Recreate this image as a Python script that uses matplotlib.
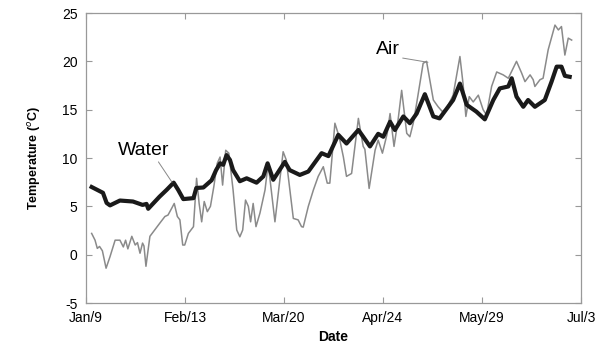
import matplotlib.pyplot as plt

# days after Jan/9, water temperature (thick line)
water_day = [2, 6, 7.3, 8.5, 12, 16.6, 20, 21.4, 22, 26, 28.5, 31, 32.6, 34.4, 38, 39, 41.5,
             44.4, 46, 47.4, 48.5, 49.7, 50.9, 52, 54.4, 56.8, 60.3, 62.7, 64.2, 66.2, 70.3,
             72, 75.6, 78.6, 83.3, 85.7, 89.2, 92.1, 96.3, 98, 100.4, 103.3, 105.1, 107.5,
             109.2, 112.2, 114.5, 116.9, 119.8, 122.8, 125, 129.8, 132.2, 134.6, 138, 141,
             144, 146.3, 149.3, 150.5, 152.2, 154.6, 156.3, 158.7, 162.2, 164.6, 166.4,
             168.1, 169.3, 171]
water_temp = [7.0, 6.4, 5.35, 5.1, 5.6, 5.5, 5.15, 5.25, 4.75, 6.0, 6.7, 7.45, 6.7, 5.75, 5.85,
              6.9, 6.95, 7.7, 8.75, 9.45, 9.3, 10.3, 9.8, 8.75, 7.6, 7.9, 7.45, 8.1, 9.45, 7.75,
              9.6, 8.75, 8.25, 8.6, 10.5, 10.2, 12.4, 11.5, 12.9, 12.2, 11.2, 12.5, 12.2, 13.75,
              12.9, 14.3, 13.6, 14.6, 16.6, 14.3, 14.1, 16.0, 17.7, 15.5, 14.8, 14.0, 16.0,
              17.2, 17.4, 18.25, 16.35, 15.3, 16.0, 15.3, 16.0, 17.9, 19.45, 19.45, 18.5, 18.4]

# days after Jan/9, air temperature (thin line)
air_day = [2, 3.2, 4, 4.8, 5.8, 7.1, 8.5, 10.3, 12, 13.2, 14, 14.8, 16.2, 17.4, 18.2, 19.1, 20,
           20.5, 21.2, 22.6, 24.4, 26.2, 27.9, 29, 30.3, 31.2, 32.3, 33.2, 34.2, 34.9, 36.2, 38,
           39.1, 40, 40.9, 41.8, 42.9, 44, 45.2, 46.4, 47.4, 48.3, 49.4, 50.5, 52, 53.3, 54.4,
           55.4, 56.4, 57.4, 58.2, 59.1, 60.1, 61.5, 63.3, 64.4, 66.8, 69.7, 70.8, 73.3, 75,
           76.2, 76.8, 78.6, 80.4, 82.1, 83.9, 85.3, 86.2, 88, 89.5, 91, 92.1, 93.9, 96.3, 98,
           98.6, 100.1, 102.2, 103.3, 104.8, 106.5, 107.5, 108.9, 110.4, 111.6, 113.4, 114.5,
           115.7, 116.9, 119.2, 120.4, 122.8, 124.5, 126, 127.5, 129.8, 132.2, 133.3, 134.3,
           135.5, 136.9, 138.7, 140.4, 141.6, 143.4, 145.2, 147.5, 149.3, 152.2, 154, 155.2,
           157, 158.1, 158.7, 160.5, 161.6, 163.4, 165.8, 167, 168.1, 169.3, 170.5, 171.7]
air_temp = [2.2, 1.5, 0.65, 0.85, 0.4, -1.4, -0.2, 1.5, 1.5, 0.8, 1.5, 0.6, 1.9, 1.0, 1.25, 0.15,
            1.2, 0.9, -1.2, 1.9, 2.6, 3.3, 3.95, 4.1, 4.8, 5.3, 3.95, 3.6, 1.0, 1.0, 2.2, 2.9,
            7.9, 5.3, 3.4, 5.5, 4.45, 5.0, 7.05, 9.45, 10.1, 7.2, 10.8, 10.5, 6.7, 2.55, 1.85,
            2.55, 5.65, 5.0, 3.4, 5.3, 2.9, 4.3, 6.7, 9.45, 3.4, 10.65, 9.8, 3.75, 3.6, 2.9,
            2.85, 5.0, 6.7, 8.1, 9.1, 7.4, 7.4, 13.6, 12.2, 10.1, 8.1, 8.4, 14.1, 11.2, 10.9,
            6.85, 10.8, 11.85, 10.5, 12.55, 14.6, 11.2, 14.1, 17.0, 12.55, 12.2, 13.6, 15.65,
            19.8, 20.0, 16.0, 15.3, 14.8, 15.15, 16.5, 20.5, 17.7, 14.3, 16.35, 15.8, 16.5,
            15.0, 14.45, 17.4, 18.9, 18.6, 18.25, 20.0, 18.8, 17.9, 18.6, 18.1, 17.4, 18.1,
            18.25, 21.2, 23.75, 23.25, 23.6, 20.65, 22.4, 22.2]

tick_days = [0, 35, 70, 105, 140, 175]
tick_labels = ['Jan/9', 'Feb/13', 'Mar/20', 'Apr/24', 'May/29', 'Jul/3']

plt.rcParams['font.family'] = ['Liberation Sans', 'DejaVu Sans']
plt.rcParams['axes.unicode_minus'] = False
fig = plt.figure(figsize=(6.03, 3.45), dpi=100)
ax = fig.add_axes([0.1426, 0.1217, 0.8209, 0.8406])

ax.plot(air_day, air_temp, color='#8a8a8a', lw=1.1)
ax.plot(water_day, water_temp, color='#1a1a1a', lw=3.0, solid_joinstyle='round')

ax.set_xlim(0, 175)
ax.set_ylim(-5, 25)
ax.set_xticks(tick_days)
ax.set_xticklabels(tick_labels)
ax.set_yticks(range(-5, 26, 5))
ax.tick_params(direction='in', top=True, right=True, length=4, color='#999999',
               labelsize=10, pad=6)
for s in ax.spines.values():
    s.set_color('#999999')
    s.set_linewidth(0.9)

ax.set_xlabel('Date', fontsize=10, fontweight='bold', labelpad=3)
ax.set_ylabel('Temperature ($^o$C)', fontsize=9, fontweight='bold', labelpad=14)

ax.annotate('Water', xy=(30.4, 7.5), xytext=(11.3, 10.3), fontsize=14,
            arrowprops=dict(arrowstyle='-', color='#888888', lw=0.7, shrinkA=0, shrinkB=0,
                            relpos=(0.75, 0)))
ax.annotate('Air', xy=(120.9, 19.9), xytext=(102.5, 20.8), fontsize=14,
            arrowprops=dict(arrowstyle='-', color='#888888', lw=0.7, shrinkA=0, shrinkB=0,
                            relpos=(1, 0)))

fig.savefig('out.png', dpi=100)
